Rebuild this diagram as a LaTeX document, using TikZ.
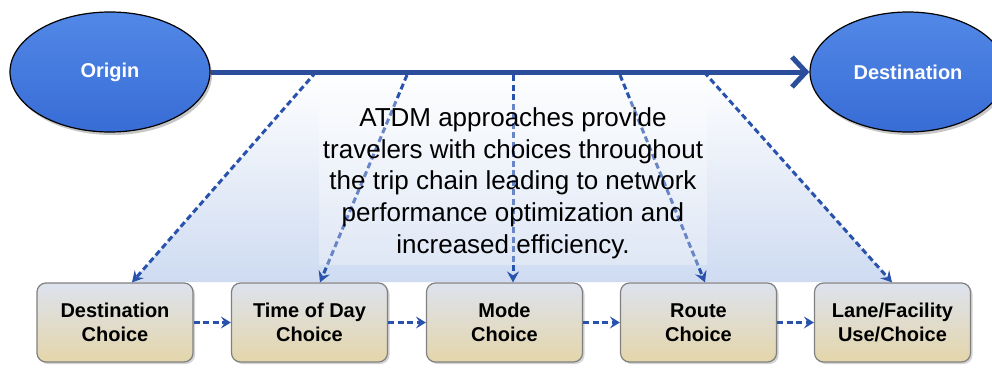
\documentclass[tikz,border=0pt]{standalone}
\usepackage{fontspec}
\setmainfont{Liberation Sans}
\usetikzlibrary{arrows.meta,shadows,calc,shapes.geometric}
\definecolor{mainline}{RGB}{42,78,155}
\definecolor{dashblue}{RGB}{40,82,172}
\definecolor{ovaltop}{RGB}{82,136,230}
\definecolor{ovalbot}{RGB}{56,108,214}
\definecolor{boxtop}{RGB}{221,226,238}
\definecolor{boxbot}{RGB}{228,214,170}
\definecolor{boxedge}{RGB}{128,128,128}
\definecolor{fanblue}{RGB}{206,219,241}
\tikzset{
  oval/.style={ellipse, minimum width=200pt, minimum height=120pt, draw=black,
    line width=1.2pt, top color=ovaltop, bottom color=ovalbot,
    text=white, font=\fontsize{20}{24}\selectfont\bfseries,
    drop shadow={shadow xshift=2pt, shadow yshift=-3pt, opacity=0.45}},
  choice/.style={rectangle, rounded corners=9pt, minimum width=156pt,
    minimum height=79pt, draw=boxedge, line width=1.2pt,
    top color=boxtop, bottom color=boxbot, align=center,
    font=\fontsize{20}{24}\selectfont\bfseries,
    drop shadow={shadow xshift=2pt, shadow yshift=-2pt, opacity=0.35}},
  feed/.style={dashblue, line width=3pt, dash pattern=on 6pt off 3.5pt,
    -{Stealth[length=11pt,width=12pt,inset=4pt]}},
  link/.style={dashblue, line width=3pt, dash pattern=on 6pt off 3.5pt,
    -{Stealth[length=10pt,width=12pt,inset=4pt]}},
}
\begin{document}
\begin{tikzpicture}[x=1pt,y=1pt]
\useasboundingbox (0,0) rectangle (992,368);

% fan of choices under the trip line
\shade[top color=white, bottom color=fanblue]
  (316,296) -- (704,296) -- (892,86) -- (132,86) -- cycle;

% origin and destination
\node[oval] (orig) at (110,296) {Origin};
\node[oval, minimum width=196pt] (dest) at (908,296) {Destination};

% choice boxes
\node[choice] (b1) at (115,45.5) {Destination\\Choice};
\node[choice] (b2) at (309.5,45.5) {Time of Day\\Choice};
\node[choice] (b3) at (504.5,45.5) {Mode\\Choice};
\node[choice] (b4) at (698.5,45.5) {Route\\Choice};
\node[choice] (b5) at (892.5,45.5) {Lane/Facility\\Use/Choice};

% branch points on the trip line
\coordinate (p1) at (316,296);
\coordinate (p2) at (407,293);
\coordinate (p3) at (513,293);
\coordinate (p4) at (620,293);
\coordinate (p5) at (704,296);

% dashed feeds from the trip to each choice
\draw[feed] (p1) -- ([xshift=17pt]b1.north);
\draw[feed] (p2) -- ([xshift=10.5pt]b2.north);
\draw[feed] (p3) -- ([xshift=8.5pt]b3.north);
\draw[feed] (p4) -- ([xshift=6.5pt]b4.north);
\draw[feed] (p5) -- ([xshift=-0.5pt]b5.north);

% caption
\node[fill=white, fill opacity=0.3, text opacity=1, align=center,
  inner xsep=4pt, inner ysep=6pt,
  font=\fontsize{26}{31.7}\selectfont] (cap) at (513,185)
  {ATDM approaches provide\\travelers with choices throughout\\the trip chain leading to network\\performance optimization and\\increased efficiency.};

% trip line
\draw[mainline, line width=5pt, -{Straight Barb[length=14pt,width=30pt]}]
  (orig.east) -- (dest.west);

% sequence between choices
\draw[link] (b1.east) -- (b2.west);
\draw[link] (b2.east) -- (b3.west);
\draw[link] (b3.east) -- (b4.west);
\draw[link] (b4.east) -- (b5.west);
\end{tikzpicture}
\end{document}
